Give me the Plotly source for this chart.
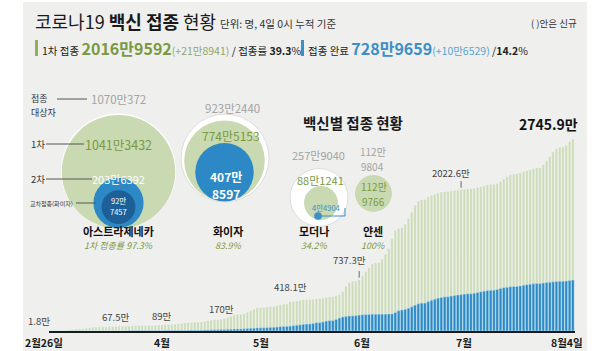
import plotly.graph_objects as go
import pandas as pd

# ---------------- data ----------------
# cumulative total doses (1st + 2nd), unit: 만
tot_feb = [1.8, 2.0, 2.1]
tot_mar = [2.6, 4.5, 9.4, 17.3, 26.5, 31.3, 31.6, 33.7, 41.6, 49.6,
           55.4, 58.8, 60.1, 60.4, 62.0, 64.4, 67.5, 69.3, 71.8, 72.4,
           72.7, 73.6, 74.8, 77.2, 79.4, 81.6, 81.9, 82.2, 83.1, 85.9, 87.6]
tot_apr = [89.0, 94.8, 96.9, 97.3, 100.5, 106.8, 112.6, 118.4, 124.0, 126.6,
           127.1, 130.2, 135.6, 141.3, 149.2, 157.4, 163.0, 164.1, 170.0, 183.5,
           198.6, 214.0, 231.4, 240.3, 241.5, 252.6, 270.5, 291.8, 312.4, 335.2]
tot_may = [338.0, 340.0, 345.5, 352.4, 355.0, 368.2, 380.1, 386.0, 388.3, 418.1,
           425.0, 432.2, 440.5, 447.3, 451.2, 452.0, 457.4, 463.1, 466.0, 474.2,
           484.5, 490.1, 492.0, 505.3, 523.4, 560.2, 640.5, 695.0, 715.3, 718.0, 737.3]
tot_jun = [790.0, 850.2, 905.4, 960.1, 975.0, 978.2, 1030.5, 1100.3, 1180.6, 1320.0,
           1440.2, 1470.5, 1478.0, 1530.4, 1610.2, 1700.5, 1800.3, 1860.1, 1880.4, 1885.0,
           1920.3, 1945.1, 1960.2, 1975.4, 1988.0, 1995.1, 1997.0, 2005.2, 2012.4, 2018.1]
tot_jul = [2022.6, 2030.1, 2035.2, 2037.0, 2045.3, 2055.1, 2068.4, 2080.2, 2092.1, 2098.0,
           2100.2, 2112.5, 2140.3, 2175.1, 2210.4, 2235.2, 2245.0, 2248.1, 2262.3, 2280.5,
           2295.2, 2310.1, 2325.4, 2335.0, 2338.2, 2380.5, 2440.1, 2500.3, 2560.2, 2610.4, 2630.1]
tot_aug = [2635.2, 2660.5, 2710.3, 2745.9]

# cumulative completed (2nd dose), unit: 만
sec_feb = [0, 0, 0]
sec_mar = [0, 0, 0, 0, 0, 0, 0, 0, 0, 0,
           0, 0, 0, 0, 0, 0, 0.5, 0.9, 1.4, 1.5,
           1.5, 1.8, 2.2, 2.6, 3.0, 3.4, 3.5, 3.5, 3.8, 4.2, 4.6]
sec_apr = [5.0, 5.5, 5.6, 5.6, 6.2, 6.9, 7.6, 8.4, 9.5, 10.2,
           10.3, 11.0, 12.5, 14.0, 15.8, 17.5, 18.5, 18.7, 20.0, 22.0,
           24.0, 26.5, 29.0, 30.0, 30.2, 32.0, 35.0, 38.0, 41.0, 44.0]
sec_may = [45, 45.5, 48, 52, 53, 57, 62, 64, 65, 70,
           76, 82, 88, 95, 99, 100, 108, 118, 120, 130,
           142, 148, 150, 165, 185, 200, 210, 215, 216, 220, 228]
sec_jun = [232, 236, 238, 240, 240, 240.5, 241, 242, 243, 245,
           265, 290, 300, 310, 325, 345, 370, 390, 398, 400,
           420, 440, 455, 470, 480, 488, 490, 500, 508, 515]
sec_jul = [520, 528, 532, 533, 540, 550, 560, 570, 578, 582,
           583, 595, 608, 618, 625, 632, 636, 637, 645, 655,
           662, 668, 674, 678, 679, 685, 692, 698, 703, 708, 710]
sec_aug = [711, 715, 722, 729.0]

start_date, end_date = "2021-02-26", "2021-08-04"

# labelled bars
label_dates = ["2021-02-26", "2021-03-17", "2021-04-01", "2021-04-19",
               "2021-05-10", "2021-05-31", "2021-07-01", "2021-08-04"]
label_texts = ["1.8만", "67.5만", "89만", "170만", "418.1만", "737.3만", "2022.6만", "2745.9만"]

tick_dates = ["2021-02-26", "2021-04-01", "2021-05-01", "2021-06-01", "2021-07-01", "2021-08-04"]
tick_texts = ["2월26일", "4월", "5월", "6월", "7월", "8월4일"]

# vaccine circles
vaccines = ["아스트라제네카", "화이자", "모더나", "얀센"]
target_n = [1070.0372, 923.2440, 257.9040, 112.9804]
first_n = [1041.3432, 774.5153, 88.1241, 112.9766]
second_n = [203.6392, 407.8597, 4.4904, None]
cross_n = 92.7457
target_t = ["1070만372", "923만2440", "257만9040", "112만<br>9804"]
first_t = ["1041만3432", "774만5153", "88만1241", "112만<br>9766"]
second_t = ["203만6392", "407만<br>8597", "4만4904", None]
cross_t = "92만<br>7457"
rate_t = ["1차 접종률 97.3%", "83.9%", "34.2%", "100%"]

# ---------------- styles ----------------
W, H = 610, 351
FONT = "Noto Sans CJK KR, sans-serif"
KFONT = "Noto Sans CJK KR, sans-serif"
GREEN = "#cddcba"
GREEN_C = "#c9d9b1"
GREEN_T = "#7a9a42"
BLUE = "#2c89c5"
DBLUE = "#1d5f97"
BLUE_T = "#3a8fc8"
GRAY_T = "#a3a3a3"
DARK = "#222222"


def px(x):
    return x / W


def py(y):
    return 1 - y / H


dates = pd.date_range(start_date, end_date, freq="D")
total = tot_feb + tot_mar + tot_apr + tot_may + tot_jun + tot_jul + tot_aug
second = sec_feb + sec_mar + sec_apr + sec_may + sec_jun + sec_jul + sec_aug
assert len(total) == len(dates) == len(second)
tot_by_date = dict(zip(dates.strftime("%Y-%m-%d"), total))

fig = go.Figure()
fig.add_bar(x=dates, y=total, marker=dict(color=GREEN, line=dict(width=0.5, color="#f7f7f5")),
            hoverinfo="skip")
fig.add_bar(x=dates, y=second, marker=dict(color=BLUE, line=dict(width=0.5, color="#bfe3f5")),
            hoverinfo="skip")

half = pd.Timedelta(hours=12)
fig.update_layout(
    width=W, height=H, margin=dict(l=0, r=0, t=0, b=0),
    paper_bgcolor="white", plot_bgcolor="rgba(0,0,0,0)",
    barmode="overlay", bargap=0.18, showlegend=False,
    xaxis=dict(type="date", range=[dates[0] - half, dates[-1] + half],
               domain=[px(48.5), px(574.5)], showgrid=False, showticklabels=False,
               showline=True, linecolor="#1a1a1a", linewidth=1.5, zeroline=False, ticks=""),
    yaxis=dict(range=[0, 2800], domain=[py(331), py(135.2)], visible=False),
)

shapes = []
# panel background
shapes.append(dict(type="rect", xref="paper", yref="paper", x0=px(23), x1=px(587),
                   y0=0, y1=py(2), fillcolor="#efefee", line=dict(width=0), layer="below"))

ann = []


def txt(x, y, s, size, color=DARK, xanchor="center", family=FONT, yanchor="middle"):
    ann.append(dict(x=px(x), y=py(y), xref="paper", yref="paper", text=s, showarrow=False,
                    font=dict(size=size, color=color, family=family),
                    xanchor=xanchor, yanchor=yanchor, borderpad=0, align="center"))


def txt2(x, y, s, size, color, gap, xanchor="center", family=FONT):
    # two-line text drawn as two separate lines
    a, b = s.split("<br>")
    if a.startswith("<b>"):
        a, b = a + "</b>", "<b>" + b
    txt(x, y - gap / 2, a, size, color, xanchor, family)
    txt(x, y + gap / 2, b, size, color, xanchor, family)


# ---------- header ----------
txt(34, 21, "코로나19 <b>백신 접종</b> 현황", 18, "#1a1a1a", "left", KFONT)
txt(219, 23, "단위: 명, 4일 0시 누적 기준", 10.5, "#333", "left", KFONT)
txt(578, 23, "( )안은 신규", 9.5, "#333", "right", KFONT)

shapes.append(dict(type="rect", xref="paper", yref="paper", x0=px(35), x1=px(38),
                   y0=py(56), y1=py(40), fillcolor="#8fae55", line=dict(width=0)))
txt(41, 48, "1차 접종 <span style='font-size:16px;color:#7a9a42'><b>2016만9592</b></span>"
    "<span style='color:#8fa86a'>(+21만8941)</span> / 접종률 <b>39.3</b>%", 10.5, DARK, "left")
shapes.append(dict(type="rect", xref="paper", yref="paper", x0=px(301), x1=px(304),
                   y0=py(56), y1=py(40), fillcolor="#3a8fc8", line=dict(width=0)))
txt(307, 48, "접종 완료 <span style='font-size:16px;color:#3a8fc8'><b>728만9659</b></span>"
    "<span style='color:#5aa3d3'>(+10만6529)</span> /<b>14.2</b>%", 10.5, DARK, "left")

# ---------- circles ----------
outer_R = [57.5, 44, 29, 18.5]
outer_c = [(118.5, 171), (225, 158), (319, 197.5), (373.5, 193.5)]
first_c = [(118.5, None), (224.5, None), (321, 203), (373.5, 193.5)]
first_bottom_gap = [0, 1, None, None]


def circle(cx, cy, r, fill, line=None, lw=0):
    shapes.append(dict(type="circle", xref="paper", yref="paper",
                       x0=px(cx - r), x1=px(cx + r), y0=py(cy + r), y1=py(cy - r),
                       fillcolor=fill, line=dict(color=line or fill, width=lw)))


for i in range(4):
    R = outer_R[i]
    ocx, ocy = outer_c[i]
    bottom = ocy + R
    if i in (1, 2):
        circle(ocx, ocy, R, "white", "#dddddd", 1)
    else:
        circle(ocx, ocy, R, "white")
    r1 = R * (first_n[i] / target_n[i]) ** 0.5
    fcx, fcy = first_c[i]
    if fcy is None:
        fcy = bottom - first_bottom_gap[i] - r1
    circle(fcx, fcy, r1, GREEN_C)
    if second_n[i] is not None:
        r2 = R * (second_n[i] / target_n[i]) ** 0.5
        if i == 2:
            circle(318, 216, r2, BLUE_T)
        else:
            circle(fcx, bottom - 0.5 - r2, r2, BLUE)
    if i == 0:
        r3 = R * (cross_n / target_n[0]) ** 0.5
        circle(fcx, bottom - 4.5 - r3, r3, DBLUE)

# circle texts
txt(30, 98, "접종", 9, "#333", "left", KFONT)
txt(30, 112, "대상자", 9, "#333", "left", KFONT)
txt(30, 144, "1차", 9.5, "#333", "left", KFONT)
txt(30, 179, "2차", 9.5, "#333", "left", KFONT)
txt(29, 203, "교차접종(화이자)", 6, "#333", "left", KFONT)
for (x0, x1, y) in [(57, 87, 99), (46, 84, 144), (46, 92, 179), (76, 96, 203)]:
    shapes.append(dict(type="line", xref="paper", yref="paper", x0=px(x0), x1=px(x1),
                       y0=py(y), y1=py(y), line=dict(color="#555", width=1)))

txt(90, 99, target_t[0], 11.5, GRAY_T, "left")
txt(118.5, 144, first_t[0], 12.5, GREEN_T)
txt(118.5, 179, second_t[0], 11, "white")
txt2(118.5, 206, cross_t, 7.5, "white", 11)

txt(232, 108, target_t[1], 11.5, GRAY_T)
txt(231, 135, first_t[1], 12, GREEN_T)
txt2(226, 185, "<b>" + second_t[1] + "</b>", 12, "white", 17.5)

txt(318, 155, target_t[2], 11, GRAY_T)
txt(320, 180, first_t[2], 11, GREEN_T)
txt(341, 207.5, second_t[2], 7.5, BLUE_T, "right")
shapes.append(dict(type="path", xref="paper", yref="paper",
                   path=f"M {px(318)} {py(216)} L {px(345)} {py(216)} L {px(345)} {py(208)}",
                   line=dict(color=BLUE_T, width=1)))

txt2(373, 159, target_t[3], 10, GRAY_T, 14.5)
txt2(373.5, 194, first_t[3], 10, GREEN_T, 14.5)

name_x = [118.5, 228, 314, 373]
for i in range(4):
    txt(name_x[i], 231, "<b>" + vaccines[i] + "</b>", 11, "#111", "center", KFONT)
    txt(name_x[i], 245.5, "<i>" + rate_t[i] + "</i>", 9, GREEN_T, "center", FONT)

txt(302, 123, "<b>백신별 접종 현황</b>", 14.5, "#1a1a1a", "left", KFONT)

# ---------- bar value labels ----------
lab_dx = [-11, 3, 0, 0, 0, -10, -10, 6]
lab_dy = [2, 1, 1, 2, 7, 11, 9, 4]
for d, t, dx, dy in zip(label_dates, label_texts, lab_dx, lab_dy):
    last = (t == label_texts[-1])
    ann.append(dict(x=d, y=tot_by_date[d], xref="x", yref="y", text=("<b>" + t + "</b>") if last else t,
                    showarrow=False, xanchor="right" if last else "center", yanchor="bottom",
                    xshift=dx, yshift=dy, borderpad=0,
                    font=dict(size=14 if last else 9.5, color="#111" if last else "#444", family=FONT)))
for d in ["2021-05-31", "2021-07-01"]:
    v = tot_by_date[d]
    shapes.append(dict(type="line", xref="x", yref="y", x0=d, x1=d, y0=v + 25, y1=v + 120,
                       line=dict(color="#666", width=1)))

# ---------- month ticks ----------
tick_dx = [-6, 0, 0, 0, 3, -6]
for d, t, dx in zip(tick_dates, tick_texts, tick_dx):
    ann.append(dict(x=d, y=py(342), xref="x", yref="paper", text="<b>" + t + "</b>",
                    showarrow=False, xanchor="center", yanchor="middle", xshift=dx,
                    font=dict(size=10.5, color="#1a1a1a", family=FONT)))

fig.update_layout(shapes=shapes, annotations=ann)
fig.write_html("out.html")
